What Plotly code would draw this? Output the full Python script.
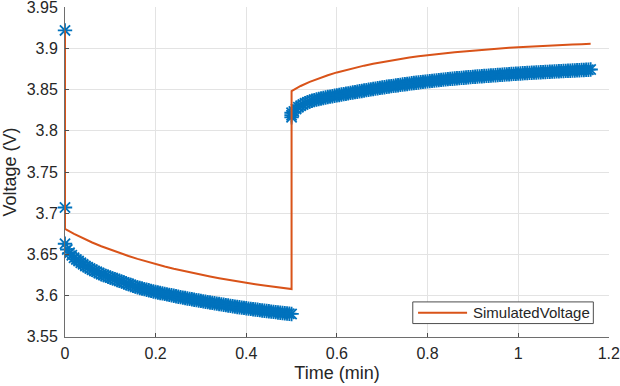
import plotly.graph_objects as go

# ---- Measured voltage (blue stars), sampled every 0.005 min ----
MEAS_STEP = 0.005
# first two samples right at t = 0 (relaxation start)
meas_t0 = [0.0, 0.0]
meas_v0 = [3.922, 3.707]
# discharge segment, t = 0 ... 0.5 min
meas_v1 = [3.663, 3.656, 3.652, 3.649, 3.646, 3.644, 3.642, 3.640, 3.638, 3.636,
           3.6345, 3.633, 3.6315, 3.630, 3.629, 3.6275, 3.626, 3.625, 3.624, 3.623,
           3.622, 3.621, 3.620, 3.619, 3.618, 3.617, 3.616, 3.615, 3.614, 3.613,
           3.612, 3.611, 3.610, 3.6093, 3.6086, 3.6079, 3.6072, 3.6065, 3.6058, 3.6051,
           3.6045, 3.6039, 3.6033, 3.6027, 3.6021, 3.6015, 3.6009, 3.6004, 3.5998, 3.5993,
           3.5987, 3.5982, 3.5976, 3.5971, 3.5966, 3.5961, 3.5956, 3.5951, 3.5946, 3.5941,
           3.5936, 3.5931, 3.5926, 3.5921, 3.5917, 3.5912, 3.5907, 3.5903, 3.5898, 3.5894,
           3.5889, 3.5885, 3.5880, 3.5876, 3.5872, 3.5867, 3.5863, 3.5859, 3.5855, 3.5851,
           3.5847, 3.5843, 3.5839, 3.5835, 3.5831, 3.5828, 3.5824, 3.5820, 3.5817, 3.5813,
           3.5810, 3.5806, 3.5803, 3.5800, 3.5796, 3.5793, 3.5790, 3.5787, 3.5784, 3.5781,
           3.5778]
# extra samples at the step, t = 0.5 min
meas_tj = [0.5, 0.5]
meas_vj = [3.819, 3.822]
# rest segment, t = 0.5 ... 1.16 min
meas_v2 = [3.8165, 3.8235, 3.8265, 3.8288, 3.8306, 3.8321, 3.8335, 3.8347, 3.8357, 3.8366,
           3.8374, 3.8381, 3.8388, 3.8394, 3.8400, 3.8406, 3.8411, 3.8416, 3.8421, 3.8426,
           3.8431, 3.8436, 3.8441, 3.8446, 3.8451, 3.8456, 3.8461, 3.8466, 3.8471, 3.8476,
           3.8481, 3.8485, 3.8490, 3.8495, 3.8499, 3.8504, 3.8508, 3.8513, 3.8517, 3.8522,
           3.8526, 3.8530, 3.8535, 3.8539, 3.8543, 3.8547, 3.8551, 3.8555, 3.8559, 3.8563,
           3.8567, 3.8570, 3.8574, 3.8578, 3.8581, 3.8585, 3.8588, 3.8592, 3.8595, 3.8598,
           3.8601, 3.8604, 3.8607, 3.8610, 3.8613, 3.8616, 3.8619, 3.8622, 3.8625, 3.8628,
           3.8631, 3.8633, 3.8636, 3.8639, 3.8641, 3.8644, 3.8646, 3.8649, 3.8651, 3.8653,
           3.8656, 3.8658, 3.8660, 3.8662, 3.8664, 3.8666, 3.8668, 3.8670, 3.8672, 3.8674,
           3.8676, 3.8678, 3.8680, 3.8682, 3.8684, 3.8686, 3.8688, 3.8690, 3.8692, 3.8693,
           3.8695, 3.8697, 3.8699, 3.8701, 3.8702, 3.8704, 3.8706, 3.8707, 3.8709, 3.8710,
           3.8712, 3.8713, 3.8715, 3.8716, 3.8718, 3.8719, 3.8721, 3.8722, 3.8724, 3.8725,
           3.8727, 3.8728, 3.8730, 3.8731, 3.8733, 3.8734, 3.8736, 3.8737, 3.8739, 3.8740,
           3.8742, 3.8743, 3.8745]

# ---- Simulated voltage (orange line), sampled every 0.02 min ----
SIM_STEP = 0.02
sim_start_v = 3.922
sim_v1 = [3.681, 3.675, 3.6695, 3.6645, 3.660, 3.6558, 3.6518, 3.6481, 3.6446, 3.6413,
          3.6382, 3.6354, 3.6327, 3.6302, 3.6278, 3.6255, 3.6233, 3.6212, 3.6192, 3.6173,
          3.6155, 3.6138, 3.6122, 3.6107, 3.6093, 3.6080]
sim_v2 = [3.8484, 3.8545, 3.8595, 3.8638, 3.8676, 3.8710, 3.8740, 3.8767, 3.8792, 3.8815,
          3.8836, 3.8856, 3.8874, 3.8890, 3.8905, 3.8919, 3.8932, 3.8944, 3.8955, 3.8965,
          3.8975, 3.8984, 3.8993, 3.9001, 3.9008, 3.9015, 3.9022, 3.9028, 3.9034, 3.9039,
          3.9044, 3.9049, 3.9053, 3.9057]

SIM_NAME = "SimulatedVoltage"

x_ticks = [0, 0.2, 0.4, 0.6, 0.8, 1, 1.2]
x_labels = ["0", "0.2", "0.4", "0.6", "0.8", "1", "1.2"]
y_ticks = [3.55, 3.6, 3.65, 3.7, 3.75, 3.8, 3.85, 3.9, 3.95]
y_labels = ["3.55", "3.6", "3.65", "3.7", "3.75", "3.8", "3.85", "3.9", "3.95"]

# time stamps of the regularly sampled series
meas_t1 = [round(i * MEAS_STEP, 4) for i in range(len(meas_v1))]
meas_t2 = [round(0.5 + i * MEAS_STEP, 4) for i in range(len(meas_v2))]
meas_t = meas_t0 + meas_t1 + meas_tj + meas_t2
meas_v = meas_v0 + meas_v1 + meas_vj + meas_v2

sim_t = [0.0] + [round(i * SIM_STEP, 4) for i in range(len(sim_v1))] + \
        [round(0.5 + i * SIM_STEP, 4) for i in range(len(sim_v2))]
sim_v = [sim_start_v] + sim_v1 + sim_v2

BLUE = "#0072BD"
ORANGE = "#D95319"
FONT = "Liberation Sans, Arial, sans-serif"

fig = go.Figure()
fig.add_trace(go.Scatter(
    x=meas_t, y=meas_v, mode="markers", showlegend=False, cliponaxis=False,
    marker=dict(symbol="asterisk-open", size=12, color=BLUE, line=dict(color=BLUE, width=1.8))))
fig.add_trace(go.Scatter(
    x=sim_t, y=sim_v, mode="lines", name=SIM_NAME, showlegend=False,
    line=dict(color=ORANGE, width=2)))

axis_common = dict(showgrid=True, gridcolor="#E3E3E3", gridwidth=1, zeroline=False,
                   showline=True, linecolor="#6E6E6E", linewidth=1,
                   ticks="inside", ticklen=4, tickcolor="#4D4D4D", tickwidth=1,
                   automargin=False, ticklabeloverflow="allow",
                   tickfont=dict(family=FONT, size=16, color="#262626"))

# legend box (MATLAB-style, drawn in paper coordinates)
LEG_X0, LEG_X1, LEG_Y0, LEG_Y1 = 0.6393, 0.9712, 0.0407, 0.1063
LEG_YM = (LEG_Y0 + LEG_Y1) / 2
shapes = [
    dict(type="rect", xref="paper", yref="paper", x0=LEG_X0, x1=LEG_X1, y0=LEG_Y0, y1=LEG_Y1,
         line=dict(color="#4D4D4D", width=1), fillcolor="white", layer="above"),
    dict(type="line", xref="paper", yref="paper", x0=0.6490, x1=0.7391, y0=LEG_YM, y1=LEG_YM,
         line=dict(color=ORANGE, width=2), layer="above"),
]
annotations = [
    dict(xref="paper", yref="paper", x=0.7460, y=LEG_YM, xanchor="left", yanchor="middle",
         text=SIM_NAME, showarrow=False,
         font=dict(family=FONT, size=15, color="#262626")),
]

fig.update_layout(
    width=620, height=386,
    margin=dict(l=65, r=11, t=7, b=49),
    paper_bgcolor="white", plot_bgcolor="white",
    xaxis=dict(range=[0, 1.2005], tickvals=x_ticks, ticktext=x_labels,
               ticklabelstandoff=2,
               title=dict(text="Time (min)", font=dict(family=FONT, size=18, color="#262626"), standoff=5),
               **axis_common),
    yaxis=dict(range=[3.5498, 3.9504], tickvals=y_ticks, ticktext=y_labels,
               ticklabelstandoff=3,
               title=dict(text="Voltage (V)", font=dict(family=FONT, size=18, color="#262626"), standoff=6),
               **axis_common),
    shapes=shapes,
    annotations=annotations,
    showlegend=False,
)

fig.write_html("out.html", config={"displayModeBar": False},
               post_script="document.body.style.margin='0px';")
